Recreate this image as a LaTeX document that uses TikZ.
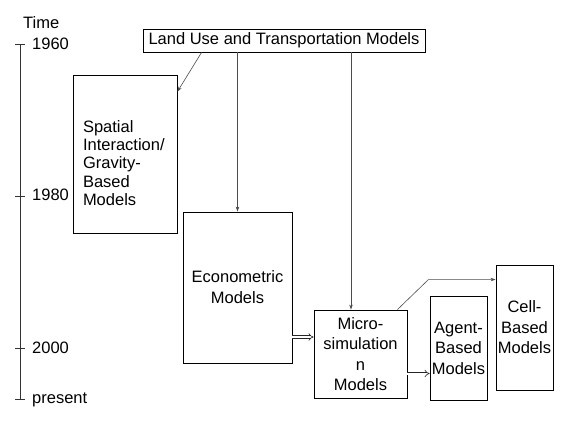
\documentclass[tikz,border=0pt]{standalone}
\usepackage{fontspec}
\setmainfont{Liberation Sans}
\usetikzlibrary{arrows.meta,calc}
\begin{document}
\begin{tikzpicture}[x=1pt,y=-1pt,
  box/.style={draw=black,line width=0.9pt,rectangle,inner sep=0pt,align=center,
    font=\fontsize{16.5}{20.5}\selectfont},
  arr/.style={draw=black!70,line width=0.6pt,-{Stealth[length=5pt,width=3.5pt]}},
  dbl/.style={draw=black!85,line width=0.6pt,double=white,double distance=2pt,-{Implies[length=4pt]}},
  tl/.style={draw=black!80,line width=0.9pt},
  lbl/.style={anchor=base west,inner sep=0pt,font=\fontsize{16.5}{18.5}\selectfont}]
\useasboundingbox (0,0) rectangle (566,424);
% timeline
\draw[tl] (20,44) -- (20,399);
\draw[tl] (15,44) -- (25,44);
\draw[tl] (15,196) -- (25,196);
\draw[tl] (15,348) -- (25,348);
\draw[tl] (15,399) -- (25,399);
\node[lbl] (time) at (23,28) {Time};
\node[lbl] (y1960) at (32,49.5) {1960};
\node[lbl] (y1980) at (32,200.5) {1980};
\node[lbl] (y2000) at (32,353) {2000};
\node[lbl] (ypres) at (32,403) {present};
% boxes
\node[box,minimum width=282pt,minimum height=23pt] (lu) at (284,40.5) {Land Use and Transportation Models};
\node[box,minimum width=104pt,minimum height=158pt,text width=84pt,align=left,
  font=\fontsize{16.5}{18.3}\selectfont] (spatial) at (125,154)
  {\rule{0pt}{30pt}Spatial\\Interaction/\\Gravity-\\Based\\Models};
\node[box,minimum width=109pt,minimum height=151pt,font=\fontsize{16.5}{21}\selectfont] (econ) at (237.5,287.5) {Econometric\\Models};
\node[box,minimum width=93pt,minimum height=88pt] (micro) at (360.5,354) {Micro-\\simulation\\n\\Models};
\node[box,minimum width=57pt,minimum height=104pt] (agent) at (458.5,348) {Agent-\\Based\\Models};
\node[box,minimum width=57pt,minimum height=125pt] (cell) at (524.5,327.5) {Cell-\\Based\\Models};
% connectors
\coordinate (a1) at ($(lu.south west)+(59,0)$);
\coordinate (a1e) at ($(spatial.north east)+(0,17)$);
\draw[arr] (a1) -- (a1e);
\draw[arr] (lu.south -| econ.north) -- (econ.north);
\coordinate (m1) at ($(micro.north)+(-9.5,0)$);
\draw[arr] (m1 |- lu.south) -- (m1);
\coordinate (d1) at ($(econ.east)+(0,49.5)$);
\draw[dbl] (d1) -- (d1 -| micro.west);
\coordinate (d2) at ($(micro.east)+(0,19.5)$);
\draw[dbl] (d2) -- (d2 -| agent.west);
\coordinate (c0) at ($(micro.north east)+(-10,0)$);
\coordinate (c1) at ($(c0)+(31,-30)$);
\draw[arr] (c0) -- (c1) -- (c1 -| cell.west);
\end{tikzpicture}
\end{document}
